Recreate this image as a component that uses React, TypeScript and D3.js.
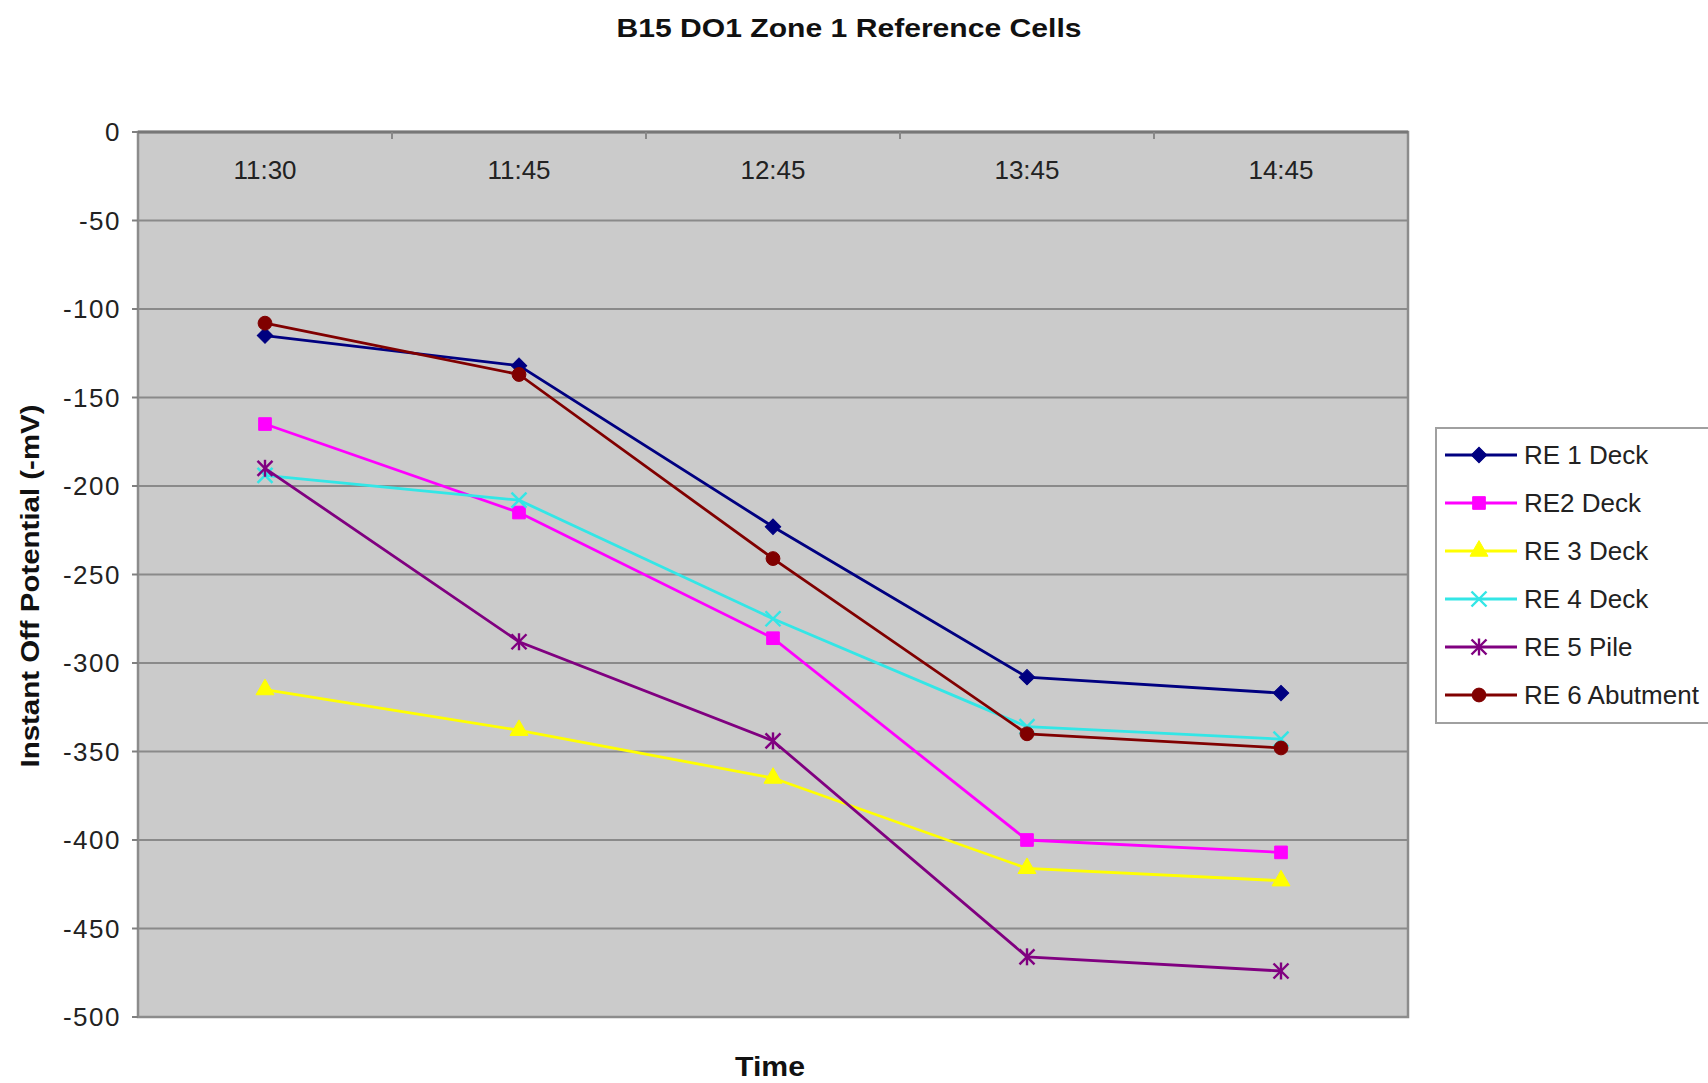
import React from "react";
import * as d3 from "d3";

const categories = ["11:30", "11:45", "12:45", "13:45", "14:45"];
const seriesNames = ["RE 1 Deck", "RE2 Deck", "RE 3 Deck", "RE 4 Deck", "RE 5 Pile", "RE 6 Abutment"];
const re1Deck = [-115, -132, -223, -308, -317];
const re2Deck = [-165, -215, -286, -400, -407];
const re3Deck = [-315, -338, -365, -416, -423];
const re4Deck = [-194, -208, -275, -336, -343];
const re5Pile = [-190, -288, -344, -466, -474];
const re6Abutment = [-108, -137, -241, -340, -348];
const yTicks = [0, -50, -100, -150, -200, -250, -300, -350, -400, -450, -500];
const seriesColors = ["#000080", "#ff00ff", "#ffff00", "#33e6e6", "#800080", "#800000"];
const seriesMarkers = ["diamond", "square", "triangle", "x", "star", "circle"];

const W = 1708;
const H = 1083;
const L = 138;
const R = 1408;
const T = 132;
const B = 1017;
const FONT = "'Liberation Sans', Arial, sans-serif";

function Marker({ kind, x, y, color }: { kind: string; x: number; y: number; color: string }) {
  if (kind === "x" || kind === "star") {
    const s = 7.5;
    return (
      <g stroke={color} strokeWidth={2.4} fill="none">
        <line x1={x - s} y1={y - s} x2={x + s} y2={y + s} />
        <line x1={x - s} y1={y + s} x2={x + s} y2={y - s} />
        {kind === "star" && <line x1={x} y1={y - s - 1} x2={x} y2={y + s + 1} />}
      </g>
    );
  }
  const typeMap: Record<string, any> = {
    diamond: d3.symbolSquare,
    square: d3.symbolSquare,
    triangle: d3.symbolTriangle,
    circle: d3.symbolCircle,
  };
  const sizeMap: Record<string, number> = { diamond: 120, square: 160, triangle: 140, circle: 150 };
  const path = d3.symbol().type(typeMap[kind]).size(sizeMap[kind])() as string;
  const rot = kind === "diamond" ? " rotate(45)" : "";
  return <path d={path} transform={`translate(${x},${y})${rot}`} fill={color} stroke={color} strokeWidth={1} />;
}

export default function App() {
  const allSeries = [re1Deck, re2Deck, re3Deck, re4Deck, re5Pile, re6Abutment];
  const x = d3.scaleBand<string>().domain(categories).range([L, R]).padding(0);
  const cx = (c: string) => (x(c) as number) + x.bandwidth() / 2;
  const y = d3.scaleLinear().domain([0, -500]).range([T, B]);
  const line = d3
    .line<number>()
    .x((_, i) => cx(categories[i]))
    .y((v) => y(v));

  const legendX = 1436;
  const legendY = 428;
  const legendRowY = (i: number) => 455 + i * 48;

  return (
    <svg width={W} height={H} style={{ position: "absolute", left: 0, top: 0, background: "#fff" }}>
      {/* title */}
      <text
        x={849}
        y={28}
        textAnchor="middle"
        dominantBaseline="central"
        fontFamily={FONT}
        fontWeight="bold"
        fontSize={26}
        textLength={465}
        lengthAdjust="spacingAndGlyphs"
        fill="#111"
      >
        B15 DO1 Zone 1 Reference Cells
      </text>

      {/* plot area */}
      <rect x={L} y={T} width={R - L} height={B - T} fill="#cbcbcb" stroke="#8c8c8c" strokeWidth={2.5} />

      {/* gridlines */}
      {yTicks.filter((t) => t !== 0 && t !== -500).map((t) => (
        <line key={t} x1={L} x2={R} y1={y(t)} y2={y(t)} stroke="#8a8a8a" strokeWidth={2.2} />
      ))}

      {/* y axis ticks + labels */}
      {yTicks.map((t) => (
        <g key={t}>
          <line x1={L - 6} x2={L} y1={y(t)} y2={y(t)} stroke="#808080" strokeWidth={2} />
          <text
            x={121}
            y={y(t)}
            textAnchor="end"
            dominantBaseline="central"
            fontFamily={FONT}
            fontSize={26}
            letterSpacing={1.5}
            fill="#222"
          >
            {t}
          </text>
        </g>
      ))}

      {/* x axis at y = 0 (top) */}
      <line x1={L} x2={R} y1={y(0)} y2={y(0)} stroke="#777" strokeWidth={3} />
      {categories.slice(1).map((c) => (
        <line key={c} x1={x(c) as number} x2={x(c) as number} y1={y(0)} y2={y(0) + 7} stroke="#888" strokeWidth={2} />
      ))}
      {categories.map((c) => (
        <text
          key={c}
          x={cx(c)}
          y={170}
          textAnchor="middle"
          dominantBaseline="central"
          fontFamily={FONT}
          fontSize={26}
          fill="#222"
        >
          {c}
        </text>
      ))}

      {/* series */}
      {allSeries.map((s, si) => (
        <g key={si}>
          <path d={line(s) as string} fill="none" stroke={seriesColors[si]} strokeWidth={2.8} />
          {s.map((v, i) => (
            <Marker key={i} kind={seriesMarkers[si]} x={cx(categories[i])} y={y(v)} color={seriesColors[si]} />
          ))}
        </g>
      ))}

      {/* axis titles */}
      <text
        transform={`translate(30,586) rotate(-90)`}
        textAnchor="middle"
        dominantBaseline="central"
        fontFamily={FONT}
        fontWeight="bold"
        fontSize={26}
        textLength={363}
        lengthAdjust="spacingAndGlyphs"
        fill="#111"
      >
        Instant Off Potential (-mV)
      </text>
      <text
        x={770}
        y={1067}
        textAnchor="middle"
        dominantBaseline="central"
        fontFamily={FONT}
        fontWeight="bold"
        fontSize={27}
        textLength={70}
        lengthAdjust="spacingAndGlyphs"
        fill="#111"
      >
        Time
      </text>

      {/* legend */}
      <rect x={legendX} y={legendY} width={320} height={295} fill="#fff" stroke="#a0a0a0" strokeWidth={2} />
      {seriesNames.map((n, i) => (
        <g key={n}>
          <line x1={1445} x2={1517} y1={legendRowY(i)} y2={legendRowY(i)} stroke={seriesColors[i]} strokeWidth={2.8} />
          <Marker kind={seriesMarkers[i]} x={1479} y={legendRowY(i)} color={seriesColors[i]} />
          <text
            x={1524}
            y={legendRowY(i)}
            dominantBaseline="central"
            fontFamily={FONT}
            fontSize={26}
            fill="#222"
          >
            {n}
          </text>
        </g>
      ))}
    </svg>
  );
}
